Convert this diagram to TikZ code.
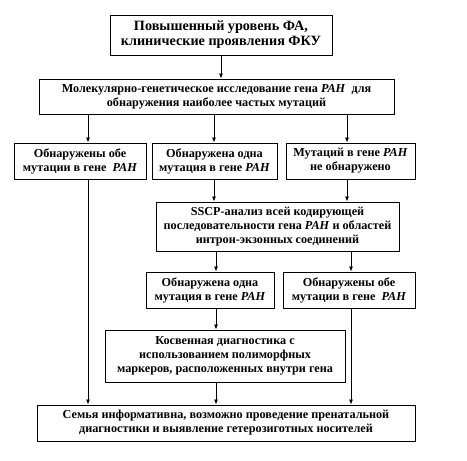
\documentclass[tikz,border=0pt]{standalone}
\usepackage{fontspec}
\setmainfont{Liberation Serif}
\usepackage{tikz}
\usetikzlibrary{arrows.meta,positioning}

\begin{document}
\begin{tikzpicture}[x=1pt,y=-1pt,>={Latex[length=5pt,width=4pt]},
  box/.style={draw,line width=0.9pt,align=center,inner sep=1pt,
    font=\bfseries\fontsize{12.2}{14}\selectfont},
  head/.style={box,font=\bfseries\fontsize{14.2}{15}\selectfont},
  link/.style={->,line width=0.8pt}]
  \useasboundingbox (0,0) rectangle (467,461);
  % boxes
  \node[head,minimum width=222pt,minimum height=40pt] (fa) at (221,35)
    {Повышенный уровень ФА,\\клинические проявления ФКУ};
  \node[box,minimum width=355pt,minimum height=35pt] (mol) at (216.5,96.5)
    {Молекулярно-генетическое исследование гена \textit{PAH}~ для\\обнаружения наиболее частых мутаций};
  \node[box,minimum width=132pt,minimum height=36pt] (both) at (80,161)
    {Обнаружены обе\\мутации в гене~ \textit{PAH}};
  \node[box,minimum width=125pt,minimum height=36pt] (one) at (214.5,161)
    {Обнаружена одна\\мутация в гене \textit{PAH}};
  \node[box,minimum width=129pt,minimum height=36pt] (none) at (350.5,161)
    {Мутаций в гене \textit{PAH}\\не обнаружено};
  \node[box,minimum width=243pt,minimum height=49pt] (sscp) at (277.5,226.5)
    {SSCP-анализ всей кодирующей\\последовательности гена \textit{PAH} и областей\\интрон-экзонных соединений};
  \node[box,minimum width=128pt,minimum height=36pt] (one2) at (210,290)
    {Обнаружена одна\\мутация в гене \textit{PAH}};
  \node[box,minimum width=132pt,minimum height=36pt] (both2) at (349,290)
    {Обнаружены обе\\мутации в гене~ \textit{PAH}};
  \node[box,minimum width=240pt,minimum height=52pt] (ind) at (225,356)
    {Косвенная диагностика с\\использованием полиморфных\\маркеров, расположенных внутри гена};
  \node[box,minimum width=378pt,minimum height=36pt] (fam) at (226,423)
    {Семья информативна, возможно проведение пренатальной\\диагностики и выявление гетерозиготных носителей};
  % x positions of the connectors
  \coordinate (xa) at (88,0);
  \coordinate (xb) at (214,0);
  \coordinate (xc) at (347,0);
  \coordinate (xd) at (216,0);
  \coordinate (xe) at (351,0);
  % connectors
  \draw[link] (fa.south) -- (fa.south |- mol.north);
  \draw[link] (mol.south -| xa) -- (both.north -| xa);
  \draw[link] (mol.south -| xb) -- (one.north -| xb);
  \draw[link] (mol.south -| xc) -- (none.north -| xc);
  \draw[link] (one.south -| xb) -- (sscp.north -| xb);
  \draw[link] (none.south -| xc) -- (sscp.north -| xc);
  \draw[link] (sscp.south -| xd) -- (one2.north -| xd);
  \draw[link] (sscp.south -| xe) -- (both2.north -| xe);
  \draw[link] (one2.south -| xd) -- (ind.north -| xd);
  \draw[link] (both.south -| xa) -- (fam.north -| xa);
  \draw[link] (ind.south -| xd) -- (fam.north -| xd);
  \draw[link] (both2.south -| xe) -- (fam.north -| xe);
\end{tikzpicture}
\end{document}
